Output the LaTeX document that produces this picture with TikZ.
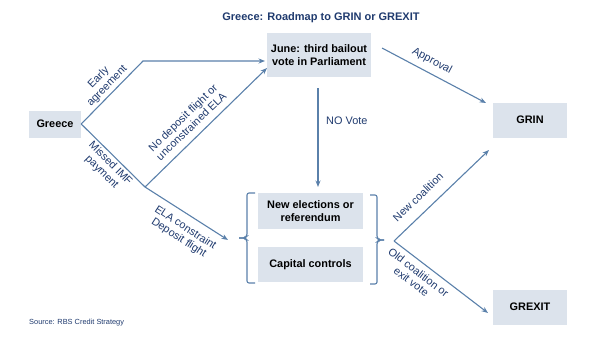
\documentclass[tikz,border=0pt]{standalone}
\usepackage{fontspec}
\setmainfont{Liberation Sans}
\usetikzlibrary{arrows.meta}
\definecolor{boxfill}{HTML}{DCE3EC}
\definecolor{linecol}{HTML}{5A80AA}
\definecolor{labcol}{HTML}{1F3A6E}
\tikzset{
  box/.style={fill=boxfill, inner sep=0pt, align=center, font=\fontsize{10.9}{13}\selectfont\bfseries},
  conn/.style={draw=linecol, line width=1.1pt},
  arr/.style={conn, -{Stealth[length=6.5pt,width=5pt]}},
  lab/.style={text=labcol, align=center, inner sep=0pt, font=\fontsize{10.9}{12}\selectfont},
}
\begin{document}
\begin{tikzpicture}[x=1pt,y=-1pt]
\useasboundingbox (0,0) rectangle (593,345);
% title
\node[text=labcol, font=\fontsize{11}{13}\selectfont\bfseries] (title) at (321,18) {Greece: Roadmap to GRIN or GREXIT};
% boxes
\node[box, minimum width=52pt, minimum height=27pt] (g) at (55,124) {Greece};
\node[box, minimum width=104pt, minimum height=44pt] (j) at (319,55) {June: third bailout\\vote in Parliament};
\node[box, minimum width=74pt, minimum height=35pt] (grin) at (530,120) {GRIN};
\node[box, minimum width=74pt, minimum height=35pt] (grexit) at (530,307) {GREXIT};
\node[box, minimum width=105pt, minimum height=36pt] (ne) at (310.5,211) {New elections or\\referendum};
\node[box, minimum width=105pt, minimum height=35pt] (cc) at (310.5,264.5) {Capital controls};
% coordinates
\coordinate (b1) at (143,61);
\coordinate (b2) at (145,187);
\coordinate (ja) at (265,61);
\coordinate (jb) at (267,68);
\coordinate (tipL) at (239,238);
\coordinate (elaend) at (228,240);
\coordinate (tipR) at (384,240);
\coordinate (nv1) at (318,88);
\coordinate (nv2) at (318,187);
\coordinate (ap1) at (382,48);
\coordinate (ap2) at (486,103);
\coordinate (nc2) at (489,150);
\coordinate (oc1) at (394,241);
\coordinate (oc2) at (488,313);
% connectors
\draw[arr] (g.east) -- (b1) -- (ja);
\draw[conn] (g.east) -- (b2);
\draw[arr] (b2) -- (jb);
\draw[arr] (b2) -- (elaend);
\draw[arr] (nv1) -- (nv2);
\draw[arr] (ap1) -- (ap2);
\draw[arr] (oc1) -- (nc2);
\draw[arr] (oc1) -- (oc2);
% braces
\draw[conn, rounded corners=2pt] (255,193) -- (247,193) -- (247,236) -- (245,238) -- (tipL);
\draw[conn, rounded corners=2pt] (255,283) -- (247,283) -- (247,240) -- (245,238) -- (tipL);
\draw[conn, rounded corners=2pt] (370,195) -- (377,195) -- (377,238) -- (379,240) -- (tipR);
\draw[conn, rounded corners=2pt] (370,284) -- (377,284) -- (377,242) -- (379,240) -- (tipR);
% labels
\node[lab, rotate=46] (l1) at (103,82) {Early\\agreement};
\node[lab, rotate=44] (l2) at (187,122) {No deposit flight or\\unconstrained ELA};
\node[lab, rotate=-45] (l3) at (106,168) {Missed IMF\\payment};
\node[lab, rotate=-33] (l4) at (182,233) {ELA constraint\\Deposit flight};
\node[lab, anchor=west] (l5) at (326,121) {NO Vote};
\node[lab, rotate=-28] (l6) at (432,61) {Approval};
\node[lab, rotate=44] (l7) at (418,197) {New coalition};
\node[lab, rotate=-37.5] (l8) at (415,277) {Old coalition or\\exit vote};
\node[text=labcol, anchor=west, inner sep=0pt, font=\fontsize{7.4}{9}\selectfont] (src) at (29,323) {Source: RBS Credit Strategy};
\end{tikzpicture}
\end{document}
